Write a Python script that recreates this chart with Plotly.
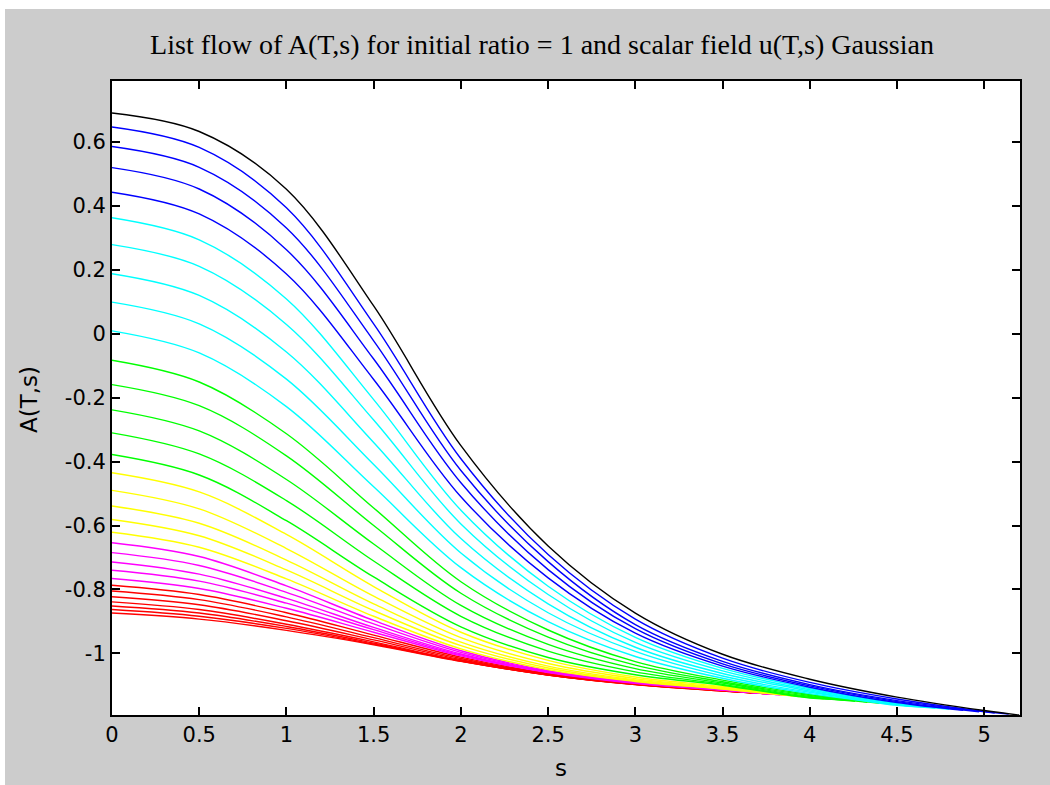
import plotly.graph_objects as go

# ---- data ----
S_GRID = [0.0, 0.5, 1.0, 1.5, 2.0, 2.5, 3.0, 3.5, 4.0, 4.5, 5.0]

BLACK_A = [[0.691, 0.633, 0.452, 0.087, -0.350, -0.664, -0.874, -1.003, -1.081, -1.137, -1.179]]
BLACK_END_S = [5.20]
BLACK_END_A = [-1.193]

BLUE_A = [
    [0.647, 0.583, 0.394, 0.031, -0.391, -0.691, -0.893, -1.015, -1.091, -1.143, -1.182],
    [0.586, 0.521, 0.331, -0.022, -0.428, -0.713, -0.910, -1.025, -1.098, -1.148],
    [0.520, 0.453, 0.263, -0.079, -0.466, -0.738, -0.923, -1.033, -1.102, -1.151],
    [0.443, 0.375, 0.187, -0.143, -0.510, -0.764, -0.937, -1.040, -1.106, -1.154],
]
BLUE_END_S = [5.14, 5.06, 4.97, 4.88]
BLUE_END_A = [-1.190, -1.187, -1.183, -1.178]

CYAN_A = [
    [0.363, 0.294, 0.109, -0.206, -0.552, -0.790, -0.950, -1.047, -1.110, -1.157],
    [0.279, 0.211, 0.029, -0.270, -0.595, -0.816, -0.966, -1.055, -1.114, -1.160],
    [0.188, 0.120, -0.057, -0.340, -0.641, -0.845, -0.981, -1.063, -1.118, -1.163],
    [0.099, 0.031, -0.142, -0.409, -0.686, -0.873, -0.994, -1.071, -1.122],
    [0.009, -0.060, -0.228, -0.479, -0.732, -0.901, -1.010, -1.078, -1.126],
]
CYAN_END_S = [4.80, 4.72, 4.64, 4.56, 4.48]
CYAN_END_A = [-1.175, -1.171, -1.167, -1.164, -1.160]

GREEN_A = [
    [-0.083, -0.151, -0.313, -0.545, -0.776, -0.927, -1.026, -1.084, -1.129],
    [-0.159, -0.225, -0.382, -0.600, -0.812, -0.949, -1.037, -1.089, -1.132],
    [-0.238, -0.304, -0.456, -0.658, -0.850, -0.972, -1.048, -1.093, -1.135],
    [-0.310, -0.376, -0.522, -0.711, -0.884, -0.993, -1.058, -1.097, -1.138],
    [-0.378, -0.442, -0.585, -0.761, -0.917, -1.013, -1.067, -1.100, -1.140],
]
GREEN_END_S = [4.40, 4.33, 4.26, 4.20, 4.14]
GREEN_END_A = [-1.156, -1.153, -1.150, -1.147, -1.144]

YELLOW_A = [
    [-0.435, -0.495, -0.628, -0.791, -0.934, -1.022, -1.074, -1.104],
    [-0.490, -0.548, -0.672, -0.821, -0.951, -1.032, -1.079, -1.107],
    [-0.539, -0.593, -0.708, -0.845, -0.965, -1.040, -1.083, -1.109],
    [-0.581, -0.632, -0.739, -0.866, -0.976, -1.046, -1.086, -1.111],
    [-0.621, -0.668, -0.767, -0.884, -0.986, -1.051, -1.088, -1.112],
]
YELLOW_END_S = [4.08, 4.03, 3.98, 3.94, 3.90]
YELLOW_END_A = [-1.142, -1.139, -1.137, -1.135, -1.133]

MAGENTA_A = [
    [-0.654, -0.697, -0.789, -0.897, -0.992, -1.054, -1.090, -1.113],
    [-0.685, -0.725, -0.809, -0.908, -0.997, -1.056, -1.091, -1.114],
    [-0.714, -0.752, -0.828, -0.919, -1.002, -1.058, -1.092, -1.114],
    [-0.740, -0.774, -0.843, -0.926, -1.005, -1.059, -1.093, -1.115],
    [-0.766, -0.797, -0.859, -0.934, -1.008, -1.060, -1.094, -1.115],
]
MAGENTA_END_S = [3.86, 3.83, 3.81, 3.79, 3.775]
MAGENTA_END_A = [-1.131, -1.130, -1.129, -1.128, -1.128]

RED_A = [
    [-0.787, -0.816, -0.873, -0.943, -1.012, -1.063, -1.095, -1.116],
    [-0.805, -0.832, -0.886, -0.951, -1.016, -1.065, -1.096, -1.116],
    [-0.823, -0.848, -0.898, -0.958, -1.020, -1.066, -1.096, -1.117],
    [-0.839, -0.863, -0.909, -0.964, -1.023, -1.067, -1.097, -1.117],
    [-0.852, -0.874, -0.916, -0.968, -1.024, -1.068, -1.097, -1.117],
    [-0.863, -0.884, -0.922, -0.971, -1.024, -1.068, -1.098, -1.118],
    [-0.874, -0.893, -0.928, -0.973, -1.025, -1.068, -1.098, -1.118],
]
RED_END_S = [3.765, 3.755, 3.745, 3.735, 3.73, 3.725, 3.72]
RED_END_A = [-1.127, -1.127, -1.126, -1.126, -1.125, -1.125, -1.125]

X_TICKS = [0, 0.5, 1, 1.5, 2, 2.5, 3, 3.5, 4, 4.5, 5]
X_TICK_TEXT = ["0", "0.5", "1", "1.5", "2", "2.5", "3", "3.5", "4", "4.5", "5"]
Y_TICKS = [-1, -0.8, -0.6, -0.4, -0.2, 0, 0.2, 0.4, 0.6]
Y_TICK_TEXT = ["-1", "-0.8", "-0.6", "-0.4", "-0.2", "0", "0.2", "0.4", "0.6"]

TITLE = "List flow of A(T,s) for initial ratio = 1 and scalar field u(T,s) Gaussian"

# drawn from red (bottom layer) up to black (top layer)
GROUPS = [
    (RED_A, RED_END_S, RED_END_A, "#ff0000"),
    (MAGENTA_A, MAGENTA_END_S, MAGENTA_END_A, "#ff00ff"),
    (YELLOW_A, YELLOW_END_S, YELLOW_END_A, "#ffff00"),
    (GREEN_A, GREEN_END_S, GREEN_END_A, "#00ff00"),
    (CYAN_A, CYAN_END_S, CYAN_END_A, "#00ffff"),
    (BLUE_A, BLUE_END_S, BLUE_END_A, "#0000ff"),
    (BLACK_A, BLACK_END_S, BLACK_END_A, "#000000"),
]

fig = go.Figure()
for vals_list, end_s, end_a, color in GROUPS:
    for vals, ls, la in zip(vals_list, end_s, end_a):
        xs = S_GRID[:len(vals)] + [ls]
        ys = list(vals) + [la]
        fig.add_trace(go.Scatter(
            x=xs, y=ys, mode="lines",
            line=dict(color=color, width=1.4, shape="spline", smoothing=1.0),
            showlegend=False, hoverinfo="skip"))

W, H = 1050, 785
ML, MR, MT, MB = 112, 30, 81, 70
PW, PH = W - ML - MR, H - MT - MB


def px_x(p):
    return (p - ML) / PW


def px_y(p):
    return (H - MB - p) / PH


tick_font = dict(family="DejaVu Sans, Arial, sans-serif", size=21, color="#000000")

fig.update_layout(
    width=W, height=H,
    margin=dict(l=ML, r=MR, t=MT, b=MB),
    paper_bgcolor="#cccccc",
    plot_bgcolor="#ffffff",
    showlegend=False,
    title=dict(text=TITLE, x=px_x(542), xref="paper", xanchor="center",
               y=1 - 44 / H, yanchor="middle",
               font=dict(family="Liberation Serif, Times New Roman, serif", size=28, color="#000000")),
    xaxis=dict(range=[0, 5.205], tickvals=X_TICKS, ticktext=X_TICK_TEXT,
               showgrid=False, zeroline=False, showline=True, linecolor="#000000", linewidth=2,
               mirror="ticks", ticks="inside", ticklen=8, tickwidth=1.5, tickcolor="#000000",
               tickfont=tick_font, ticklabelstandoff=0),
    yaxis=dict(range=[-1.193, 0.791], tickvals=Y_TICKS, ticktext=Y_TICK_TEXT,
               showgrid=False, zeroline=False, showline=True, linecolor="#000000", linewidth=2,
               mirror="ticks", ticks="inside", ticklen=8, tickwidth=1.5, tickcolor="#000000",
               tickfont=tick_font, ticklabelstandoff=0),
    annotations=[
        dict(text="A(T,s)", xref="paper", yref="paper", x=px_x(29), y=px_y(400),
             xanchor="center", yanchor="middle", textangle=-90, showarrow=False,
             font=dict(family="DejaVu Sans, Arial, sans-serif", size=23, color="#000000")),
        dict(text="s", xref="paper", yref="paper", x=px_x(561), y=px_y(768),
             xanchor="center", yanchor="middle", showarrow=False,
             font=dict(family="DejaVu Sans, Arial, sans-serif", size=23, color="#000000")),
    ],
    shapes=[
        dict(type="rect", xref="paper", yref="paper", x0=px_x(0), x1=px_x(W), y0=px_y(9), y1=px_y(0),
             fillcolor="#ffffff", line=dict(width=0), layer="above"),
        dict(type="rect", xref="paper", yref="paper", x0=px_x(0), x1=px_x(5), y0=px_y(H), y1=px_y(0),
             fillcolor="#ffffff", line=dict(width=0), layer="above"),
    ],
)

fig.write_html("out.html")
